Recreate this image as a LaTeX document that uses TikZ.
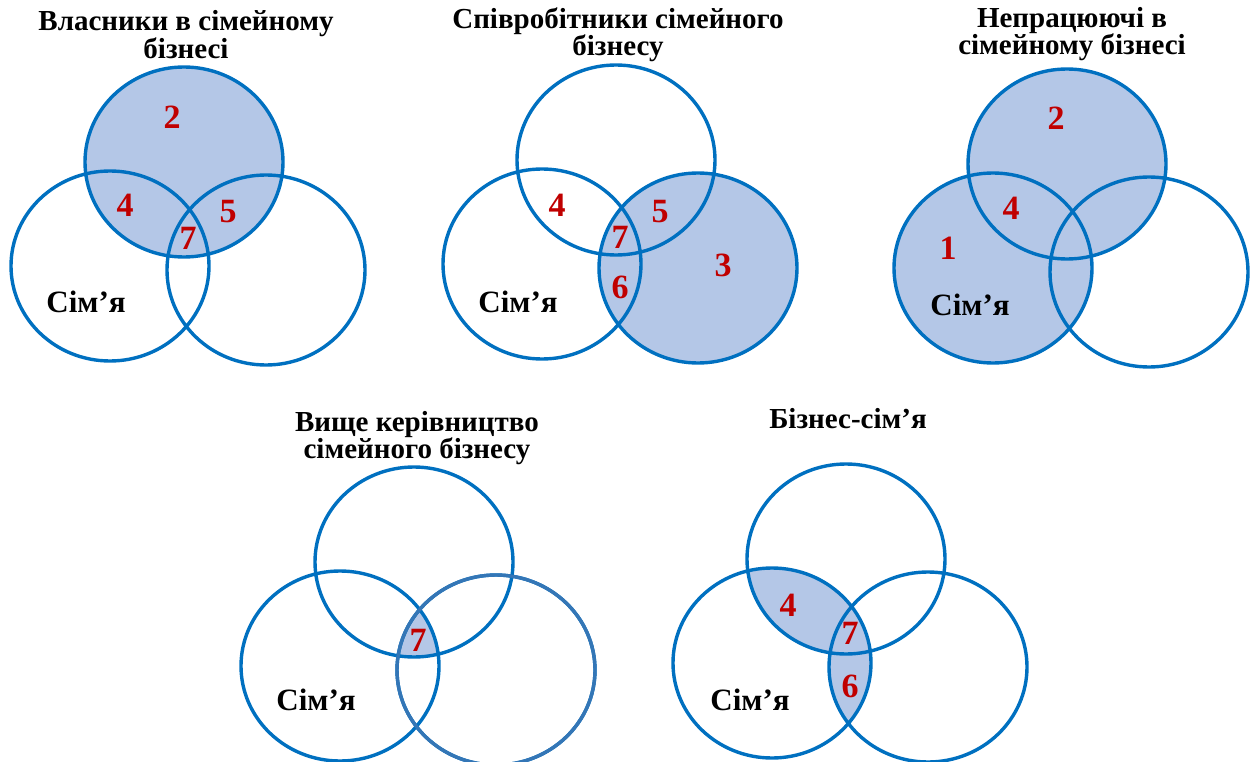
\documentclass[tikz,border=0pt]{standalone}
\usepackage{fontspec}
\setmainfont{Liberation Serif}
\definecolor{vennblue}{RGB}{0,112,192}
\definecolor{vennsteel}{RGB}{52,118,182}
\definecolor{vennfill}{RGB}{180,199,231}
\definecolor{numred}{RGB}{192,0,0}
\begin{document}
\begin{tikzpicture}[x=1pt, y=-1pt,
    okr/.style={x radius=99, y radius=95},
    kolo/.style={draw=vennblue, line width=3.4pt},
    zona/.style={fill=vennfill},
    nomer/.style={text=numred, font=\bfseries\fontsize{34}{34}\selectfont, inner sep=0pt},
    nazva/.style={font=\bfseries\fontsize{29}{27}\selectfont, align=center, inner sep=0pt},
    simja/.style={font=\bfseries\fontsize{31}{31}\selectfont, inner sep=0pt}]
    \useasboundingbox (0,0) rectangle (1256,762);
    % Центри кіл: верхнє (t), ліве - сім'я (l), праве (r)
    \foreach \n/\x/\y in {a/184/162, b/616/160, c/1067/164, d/414/562, e/846/559} {
        \coordinate (\n t) at (\x,\y);
        \coordinate (\n l) at (\x-74,\y+104);
        \coordinate (\n r) at (\x+82,\y+108);
    }
    % Заливка зон
    \fill[zona] (at) circle[okr];
    \fill[zona] (br) circle[okr];
    \fill[zona] (ct) circle[okr] (cl) circle[okr];
    \begin{scope}
        \clip (dt) circle[okr];
        \clip (dl) circle[okr];
        \fill[zona] (dr) circle[okr];
    \end{scope}
    \begin{scope}
        \clip (el) circle[okr];
        \fill[zona] (et) circle[okr];
        \fill[zona] (er) circle[okr];
    \end{scope}
    % Кола
    \foreach \n in {a,b,c,d,e}
        \draw[kolo] (\n t) circle[okr] (\n l) circle[okr] (\n r) circle[okr];
    \draw[kolo, draw=vennsteel] (dr) circle[okr];
    % Назви
    \node[nazva] (titlea) at (186,35) {Власники в сімейному\\бізнесі};
    \node[nazva] (titleb) at (618,35) {Співробітники сімейного\\бізнесу};
    \node[nazva] (titlec) at (1072,34) {Непрацюючі в\\сімейному бізнесі};
    \node[nazva] (titled) at (417,438) {Вище керівництво\\сімейного бізнесу};
    \node[nazva] (titlee) at (848,419) {Бізнес-сім’я};
    % Сім'я
    \node[simja] (sima) at (86,302) {Сім’я};
    \node[simja] (simb) at (518,302) {Сім’я};
    \node[simja] (simc) at (970,305) {Сім’я};
    \node[simja] (simd) at (316,700) {Сім’я};
    \node[simja] (sime) at (750,700) {Сім’я};
    % Номери зон
    \node[nomer] (a2) at (172,117) {2};
    \node[nomer] (a4) at (125,205) {4};
    \node[nomer] (a5) at (228,212) {5};
    \node[nomer] (a7) at (188,238) {7};
    \node[nomer] (b4) at (557,205) {4};
    \node[nomer] (b5) at (660,212) {5};
    \node[nomer] (b7) at (620,237) {7};
    \node[nomer] (b6) at (620,287) {6};
    \node[nomer] (b3) at (723,265) {3};
    \node[nomer] (c2) at (1056,118) {2};
    \node[nomer] (c4) at (1011,208) {4};
    \node[nomer] (c1) at (948,248) {1};
    \node[nomer] (d7) at (418,640) {7};
    \node[nomer] (e4) at (788,605) {4};
    \node[nomer] (e7) at (850,633) {7};
    \node[nomer] (e6) at (850,686) {6};
\end{tikzpicture}
\end{document}
